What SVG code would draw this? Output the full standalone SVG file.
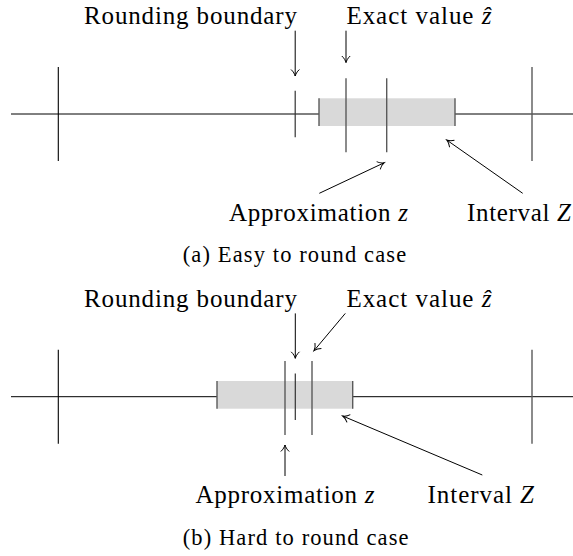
<svg xmlns="http://www.w3.org/2000/svg" width="573" height="556" viewBox="0 0 573 556">
<style>
text{font-family:"Liberation Serif","Times New Roman",serif;fill:#000}
.lbl{font-size:25px}
.cap{font-size:22.5px}
.axis{stroke:#000;stroke-width:1}
.tkb{stroke:#000;stroke-width:1.1}
.tkg{stroke:#5a5a5a;stroke-width:1.4}
.tkd{stroke:#333;stroke-width:1.2}
.box{fill:#d9d9d9;stroke:none}
.arr{stroke:#000;stroke-width:1;fill:none;marker-end:url(#to)}
.it{font-style:italic}
</style>
<defs>
<marker id="to" markerUnits="userSpaceOnUse" refX="0" refY="0" orient="auto" overflow="visible" markerWidth="10" markerHeight="10">
<path d="M-6.5,-4.2 C-4.5,-1.8 -1.5,-0.4 0,0 C-1.5,0.4 -4.5,1.8 -6.5,4.2" fill="none" stroke="#000" stroke-width="1"/>
</marker>
</defs>
<rect width="573" height="556" fill="#fff"/>

<g id="panel-a">
  <g id="a-axis">
    <line class="axis" x1="11" y1="114" x2="573" y2="114"/>
    <line class="tkb" x1="58.3" y1="67" x2="58.3" y2="161"/>
    <line class="tkg" x1="532" y1="67" x2="532" y2="161"/>
  </g>
  <g id="a-interval">
    <rect class="box" x="319" y="98.3" width="136" height="27.7"/>
    <line class="tkg" x1="319" y1="98.3" x2="319" y2="126"/>
    <line class="tkg" x1="455" y1="98.3" x2="455" y2="126"/>
  </g>
  <g id="a-boundary"><line class="tkd" x1="295.2" y1="90.7" x2="295.2" y2="137.3"/></g>
  <g id="a-exact"><line class="tkg" x1="346" y1="78.3" x2="346" y2="152.3"/></g>
  <g id="a-approx"><line class="tkg" x1="386.7" y1="78.3" x2="386.7" y2="152.3"/></g>
  <g id="a-labels">
    <text class="lbl" x="84" y="24" textLength="213">Rounding boundary</text>
    <text class="lbl" x="346.4" y="24" textLength="145">Exact value <tspan class="it">ẑ</tspan></text>
    <text class="lbl" x="229" y="220.7" textLength="179">Approximation <tspan class="it">z</tspan></text>
    <text class="lbl" x="467" y="220.7" textLength="104">Interval <tspan class="it">Z</tspan></text>
    <text class="cap" x="182.7" y="262" textLength="223.5">(a) Easy to round case</text>
  </g>
</g>

<g id="panel-b">
  <g id="b-axis">
    <line class="axis" x1="11" y1="396.7" x2="573" y2="396.7"/>
    <line class="tkb" x1="58.3" y1="349.7" x2="58.3" y2="443.7"/>
    <line class="tkg" x1="532" y1="349.7" x2="532" y2="443.7"/>
  </g>
  <g id="b-interval">
    <rect class="box" x="217" y="381" width="135.7" height="27.7"/>
    <line class="tkg" x1="217" y1="381" x2="217" y2="408.7"/>
    <line class="tkg" x1="352.7" y1="381" x2="352.7" y2="408.7"/>
  </g>
  <g id="b-approx"><line class="tkg" x1="285" y1="361" x2="285" y2="435"/></g>
  <g id="b-boundary"><line class="tkd" x1="295.3" y1="373.4" x2="295.3" y2="420"/></g>
  <g id="b-exact"><line class="tkg" x1="312" y1="361" x2="312" y2="435"/></g>
  <g id="b-labels">
    <text class="lbl" x="84" y="306.7" textLength="213">Rounding boundary</text>
    <text class="lbl" x="346.4" y="306.7" textLength="145">Exact value <tspan class="it">ẑ</tspan></text>
    <text class="lbl" x="195.5" y="503.4" textLength="179">Approximation <tspan class="it">z</tspan></text>
    <text class="lbl" x="427.5" y="503.4" textLength="106.5">Interval <tspan class="it">Z</tspan></text>
    <text class="cap" x="182.7" y="544.7" textLength="225.8">(b) Hard to round case</text>
  </g>
</g>

<g id="connectors">
  <line class="arr" x1="295.2" y1="30.7" x2="295.2" y2="76"/>
  <line class="arr" x1="346" y1="30.7" x2="346" y2="62.5"/>
  <line class="arr" x1="319.3" y1="193.3" x2="384.3" y2="162.7"/>
  <line class="arr" x1="522.7" y1="193.3" x2="446.7" y2="140"/>
  <line class="arr" x1="295.3" y1="313.4" x2="295.3" y2="358.3"/>
  <line class="arr" x1="345.3" y1="313.4" x2="314" y2="350.7"/>
  <line class="arr" x1="285" y1="476" x2="285" y2="445"/>
  <line class="arr" x1="482.3" y1="475" x2="342.7" y2="416"/>
</g>
</svg>
